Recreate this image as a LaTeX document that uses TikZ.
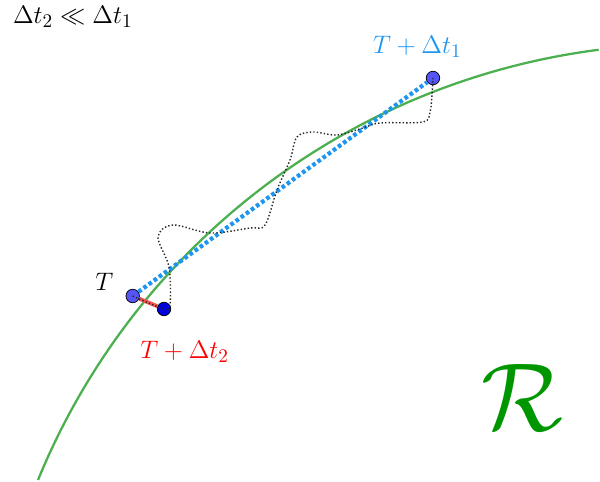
\documentclass[tikz,border=0pt]{standalone}
\usepackage{tikz}

\definecolor{trackgreen}{RGB}{76,175,80}
\definecolor{regiongreen}{RGB}{0,150,0}
\definecolor{stepblue}{RGB}{30,150,240}
\definecolor{pointblue}{RGB}{85,85,245}
\definecolor{pointdark}{RGB}{0,0,225}
\definecolor{stepred}{RGB}{245,85,80}

\begin{document}
\begin{tikzpicture}[
    point/.style={
        circle, draw=black, line width=0.4pt, fill=pointblue,
        minimum size=0.27cm, inner sep=0pt
    },
    lbl/.style={inner sep=0pt, anchor=base west, font=\fontsize{15}{18}\selectfont},
    track/.style={draw=trackgreen, line width=1.3pt},
    longstep/.style={draw=stepblue, line width=2.4pt, dash pattern=on 2.1pt off 1.5pt},
    shortstep/.style={draw=stepred, line width=2.2pt},
    walk/.style={draw=black!85, line width=0.8pt, dash pattern=on 0.8pt off 1.2pt}
]
\useasboundingbox (0,0) rectangle (12,9.64);

% the region boundary
\draw[track] (0.76,0.04) arc[start angle=157.7, end angle=97.3, radius=14.05];

\node[point] (T) at (2.654,3.72) {};
\node[point, fill=pointdark] (dt2) at (3.28,3.46) {};
\node[point] (dt1) at (8.66,8.08) {};

\draw[shortstep] (T) -- (dt2);
\draw[longstep] (T) -- (dt1);

% the path actually followed
\draw[walk] plot[smooth, tension=0.55] coordinates {
    (T.center) (dt2.center) (3.4,3.54) (3.38,4.3) (3.16,4.9) (3.46,5.14)
    (4.2,4.98) (5.0,5.08) (5.3,5.14) (5.54,5.84) (5.8,6.44) (5.94,6.9)
    (6.26,7.0) (6.74,6.94) (7.26,7.08) (7.6,7.18) (8.46,7.2) (8.6,7.4)
    (8.64,7.74) (dt1.center)};

\node[lbl] (Tlbl) at (1.9,3.82) {$T$};
\node[lbl, text=red] (dt2lbl) at (2.8,2.474) {$T+\Delta t_2$};
\node[lbl, text=stepblue] (dt1lbl) at (7.453,8.573) {$T+\Delta t_1$};
\node[lbl] (cmp) at (0.253,9.17) {$\Delta t_2 \ll \Delta t_1$};
\node[lbl, font=\huge, scale=2.65, transform shape, text=regiongreen] (reg) at (9.62,1.02) {$\mathcal{R}$};
\end{tikzpicture}
\end{document}
